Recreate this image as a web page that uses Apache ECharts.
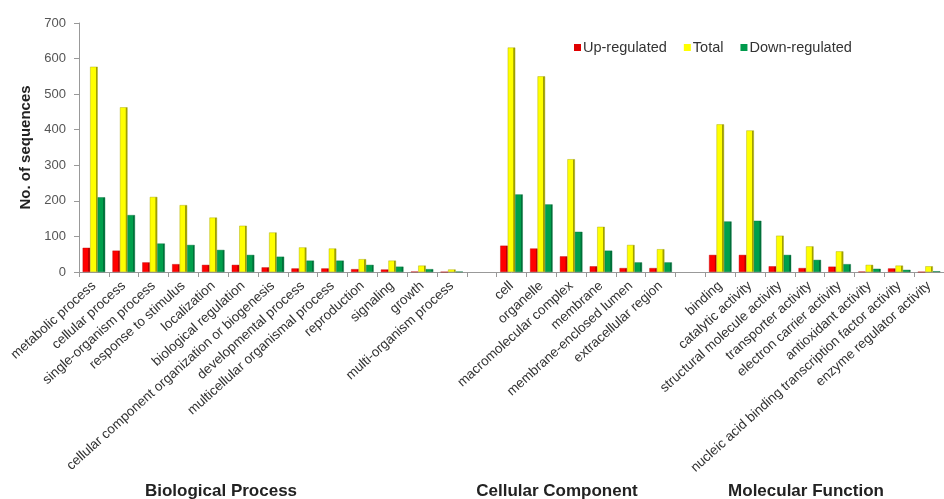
<!DOCTYPE html>
<html>
<head>
<meta charset="utf-8">
<script src="https://cdn.jsdelivr.net/npm/echarts@6/dist/echarts.min.js"></script>
<style>
  html, body { margin: 0; padding: 0; background: #fff; }
  #chart { width: 944px; height: 499px; }
</style>
</head>
<body>
<div id="chart"></div>
<script>
// GO term categories; empty strings are spacer slots between the three ontologies
const categories = [
  'metabolic process', 'cellular process', 'single-organism process', 'response to stimulus',
  'localization', 'biological regulation', 'cellular component organization or biogenesis',
  'developmental process', 'multicellular organismal process', 'reproduction', 'signaling',
  'growth', 'multi-organism process',
  '',
  'cell', 'organelle', 'macromolecular complex', 'membrane', 'membrane-enclosed lumen',
  'extracellular region',
  ' ',
  'binding', 'catalytic activity', 'structural molecule activity', 'transporter activity',
  'electron carrier activity', 'antioxidant activity',
  'nucleic acid binding transcription factor activity', 'enzyme regulator activity'
];

// Sequence counts per category (null in spacer slots)
const upRegulated = [
  68, 60, 27, 22, 20, 20, 13, 10, 10, 8, 7, 1, 0,
  null,
  74, 66, 44, 16, 11, 11,
  null,
  48, 48, 16, 11, 15, 1, 10, 0
];
const total = [
  577, 463, 211, 188, 153, 130, 111, 69, 66, 36, 32, 18, 7,
  null,
  631, 550, 317, 127, 76, 64,
  null,
  415, 398, 102, 72, 58, 20, 18, 16
];
const downRegulated = [
  210, 160, 80, 76, 62, 48, 43, 32, 32, 20, 15, 8, 1,
  null,
  218, 190, 113, 60, 27, 27,
  null,
  142, 144, 48, 34, 22, 9, 6, 2
];

const yTicks = [0, 100, 200, 300, 400, 500, 600, 700];

const groupTitles = [
  { text: 'Biological Process', x: 221 },
  { text: 'Cellular Component', x: 557 },
  { text: 'Molecular Function', x: 806 }
];

const FONT = "'Liberation Sans', Arial, sans-serif";
const chart = echarts.init(document.getElementById('chart'));

// Flat face with a darker shaded strip on the right edge
function shaded(main, dark) {
  return new echarts.graphic.LinearGradient(0, 0, 1, 0, [
    { offset: 0, color: main },
    { offset: 0.72, color: main },
    { offset: 0.78, color: dark },
    { offset: 1, color: dark }
  ]);
}

function barSeries(name, data, main, dark) {
  return {
    name: name,
    type: 'bar',
    data: data,
    barWidth: 7.5,
    barGap: '0%',
    itemStyle: { color: shaded(main, dark), borderColor: dark, borderWidth: 0.4 },
    emphasis: { disabled: true }
  };
}

chart.setOption({
  animation: false,
  backgroundColor: '#ffffff',
  textStyle: { fontFamily: FONT },
  legend: {
    top: 35,
    left: 569,
    itemWidth: 7,
    itemHeight: 7,
    itemGap: 17,
    icon: 'rect',
    textStyle: { fontFamily: FONT, fontSize: 14.5, color: '#333', padding: [0, 0, 0, -3] },
    data: [
      { name: 'Up-regulated', itemStyle: { color: '#e00000', borderWidth: 0 } },
      { name: 'Total', itemStyle: { color: '#ffff00', borderWidth: 0 } },
      { name: 'Down-regulated', itemStyle: { color: '#009a4c', borderWidth: 0 } }
    ]
  },
  grid: { left: 79, right: -5, top: 23, bottom: 227 },
  xAxis: {
    type: 'category',
    data: categories,
    boundaryGap: true,
    axisLine: { lineStyle: { color: '#999', width: 1 } },
    axisTick: { show: true, length: 5, lineStyle: { color: '#999' } },
    axisLabel: {
      interval: 0,
      rotate: 42,
      fontSize: 13.5,
      color: '#333',
      fontFamily: FONT,
      margin: 12
    }
  },
  yAxis: {
    type: 'value',
    min: yTicks[0],
    max: yTicks[yTicks.length - 1],
    interval: 100,
    name: 'No. of sequences',
    nameLocation: 'middle',
    nameGap: 46,
    nameRotate: 90,
    nameTextStyle: { fontFamily: FONT, fontSize: 15, fontWeight: 'bold', color: '#222' },
    axisLine: { show: true, lineStyle: { color: '#999' } },
    axisTick: { show: true, length: 5, lineStyle: { color: '#999' } },
    splitLine: { show: false },
    axisLabel: { fontSize: 13, color: '#555', fontFamily: FONT, margin: 13 }
  },
  series: [
    barSeries('Up-regulated', upRegulated, '#ff0000', '#b80000'),
    barSeries('Total', total, '#ffff00', '#a0a000'),
    barSeries('Down-regulated', downRegulated, '#00a04c', '#00703a')
  ],
  graphic: groupTitles.map(g => ({
    type: 'text',
    x: g.x,
    y: 491,
    style: {
      text: g.text,
      fontFamily: FONT,
      fontSize: 17,
      fontWeight: 'bold',
      fill: '#222',
      textAlign: 'center',
      textVerticalAlign: 'middle'
    }
  }))
});
</script>
</body>
</html>
